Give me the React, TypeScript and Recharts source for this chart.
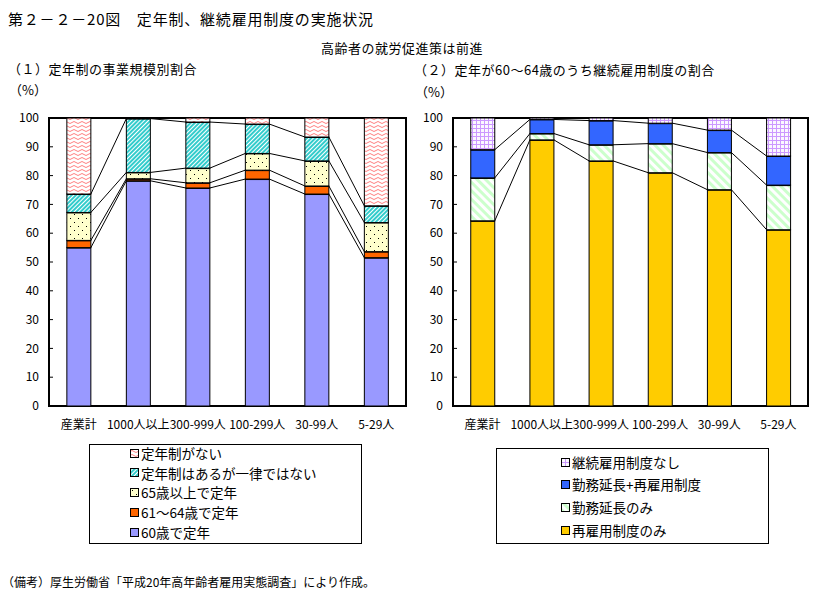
import { BarChart, Bar, XAxis, YAxis, ReferenceArea } from "recharts";

const FONT = "'Noto Sans CJK JP', 'Noto Sans CJK SC', sans-serif";

const categories = ["産業計", "1000人以上", "300-999人", "100-299人", "30-99人", "5-29人"];
const yTicks = [0, 10, 20, 30, 40, 50, 60, 70, 80, 90, 100];

// (1) 定年制の事業規模別割合
const age60 = [55.0, 78.2, 75.7, 78.8, 73.6, 51.5];
const age61to64 = [2.5, 0.7, 1.8, 3.1, 2.8, 2.1];
const age65plus = [9.7, 2.2, 5.1, 5.8, 8.7, 10.1];
const notUniform = [6.4, 18.7, 16.0, 10.2, 8.3, 5.8];
const noRetireAge = [26.4, 0.2, 1.4, 2.1, 6.6, 30.5];

// (2) 定年が60～64歳のうち継続雇用制度の割合
const reemployOnly = [64.3, 92.4, 85.1, 81.0, 75.1, 61.2];
const extendOnly = [14.9, 2.2, 5.6, 10.1, 12.9, 15.5];
const extendAndReemploy = [9.8, 4.9, 8.4, 7.1, 7.8, 10.1];
const noContinued = [11.0, 0.5, 0.9, 1.8, 4.2, 13.2];

type Series = { key: string; label: string; values: number[]; fill: string; line: boolean };

const leftSeries: Series[] = [
  { key: "a60", label: "60歳で定年", values: age60, fill: "#9999ff", line: true },
  { key: "a6164", label: "61～64歳で定年", values: age61to64, fill: "#ff6600", line: true },
  { key: "a65", label: "65歳以上で定年", values: age65plus, fill: "url(#pDots)", line: true },
  { key: "nu", label: "定年制はあるが一律ではない", values: notUniform, fill: "url(#pCyan)", line: true },
  { key: "none", label: "定年制がない", values: noRetireAge, fill: "url(#pWave)", line: false },
];

const rightSeries: Series[] = [
  { key: "re", label: "再雇用制度のみ", values: reemployOnly, fill: "#ffcc00", line: true },
  { key: "ex", label: "勤務延長のみ", values: extendOnly, fill: "url(#pGreen)", line: true },
  { key: "both", label: "勤務延長+再雇用制度", values: extendAndReemploy, fill: "#3366ff", line: true },
  { key: "nc", label: "継続雇用制度なし", values: noContinued, fill: "url(#pGrid)", line: false },
];

const CHART_W = 420;
const CHART_H = 340;
const Y_W = 49;
const MARGIN = { top: 18, right: 14, bottom: 4, left: 0 };
const PLOT_H = CHART_H - MARGIN.top - MARGIN.bottom - 30;

function makeShape(fill: string, tops: number[] | null, step: number) {
  return (p: any) => {
    const { x, y, width, height, index } = p;
    const k = (p.background && p.background.height ? p.background.height : PLOT_H) / 100;
    let line = null;
    if (tops && index < tops.length - 1) {
      const y2 = y - (tops[index + 1] - tops[index]) * k;
      line = <line x1={x + width} y1={y} x2={x + step} y2={y2} stroke="#000" strokeWidth={1} />;
    }
    return (
      <g>
        <rect x={x} y={y} width={width} height={height} fill={fill} stroke="#000" strokeWidth={1} />
        {tops && <line x1={x} y1={y} x2={x + width} y2={y} stroke="#000" strokeWidth={2} />}
        {line}
      </g>
    );
  };
}

function Panel({ series, left, marginRight }: { series: Series[]; left: number; marginRight: number }) {
  const data = categories.map((name, i) => {
    const row: any = { name };
    series.forEach((s) => (row[s.key] = s.values[i]));
    return row;
  });
  const plotW = CHART_W - Y_W - marginRight;
  const step = plotW / categories.length;
  let acc = categories.map(() => 0);
  const tops = series.map((s) => {
    acc = acc.map((a, i) => a + s.values[i]);
    return acc;
  });
  const tickStyle = { fill: "#000", fontSize: 12, fontFamily: FONT };
  return (
    <div style={{ position: "absolute", left, top: 100 }}>
      <BarChart
        width={CHART_W}
        height={CHART_H}
        data={data}
        margin={{ ...MARGIN, right: marginRight }}
        barCategoryGap="30%"
      >
        <XAxis
          xAxisId="g"
          type="number"
          domain={[0, 6]}
          ticks={[1, 2, 3, 4, 5]}
          allowDataOverflow
          height={0}
          tickSize={-4}
          tick={false}
          axisLine={{ stroke: "#000", strokeWidth: 2 }}
          tickLine={{ stroke: "#000" }}
        />
        <XAxis
          dataKey="name"
          interval={0}
          height={30}
          axisLine={false}
          tickLine={false}
          tickSize={0}
          tickMargin={14}
          tick={tickStyle}
        />
        <YAxis
          width={Y_W}
          domain={[0, 100]}
          ticks={yTicks}
          interval={0}
          tickSize={-4}
          tickMargin={14}
          axisLine={{ stroke: "#000", strokeWidth: 2 }}
          tickLine={{ stroke: "#000" }}
          tick={tickStyle}
        />
        <ReferenceArea y1={0} y2={100} fill="none" stroke="#000" strokeWidth={2} ifOverflow="visible" />
        {series.map((s, si) => (
          <Bar
            key={s.key}
            dataKey={s.key}
            stackId="a"
            fill={s.fill}
            isAnimationActive={false}
            shape={makeShape(s.fill, s.line ? tops[si] : null, step)}
          />
        ))}
      </BarChart>
    </div>
  );
}

function Swatch({ fill }: { fill: string }) {
  return (
    <svg width={9} height={9} style={{ display: "block", marginRight: 2 }}>
      <rect x={0.5} y={0.5} width={8} height={8} fill={fill} stroke="#000" strokeWidth={1} />
    </svg>
  );
}

function Legend({ items, box, itemLeft, rows }: { items: Series[]; box: any; itemLeft: number; rows: number[] }) {
  return (
    <>
      <div style={{ position: "absolute", ...box, border: "1px solid #000", boxSizing: "border-box" }} />
      {items.map((s, i) => (
        <div
          key={s.key}
          style={{
            position: "absolute",
            left: itemLeft,
            top: rows[i] - 9,
            height: 18,
            display: "flex",
            alignItems: "center",
            fontSize: 13.5,
            fontFamily: FONT,
            whiteSpace: "nowrap",
          }}
        >
          <Swatch fill={s.fill} />
          {s.label}
        </div>
      ))}
    </>
  );
}

const text = (left: number, top: number, size: number, extra: any = {}) => ({
  position: "absolute" as const,
  left,
  top,
  fontSize: size,
  lineHeight: `${size + 4}px`,
  fontFamily: FONT,
  whiteSpace: "nowrap" as const,
  ...extra,
});

export default function App() {
  return (
    <div style={{ position: "absolute", left: 0, top: 0, width: 833, height: 608, background: "#fff", overflow: "hidden" }}>
      <svg width={0} height={0} style={{ position: "absolute" }}>
        <defs>
          <pattern id="pWave" width={8} height={4} patternUnits="userSpaceOnUse">
            <rect width={8} height={4} fill="#fff" />
            <path d="M0 2.5 Q2 0.5 4 2.5 T8 2.5" stroke="#ff7f7f" fill="none" strokeWidth={1} />
          </pattern>
          <pattern id="pCyan" width={3} height={3} patternUnits="userSpaceOnUse" patternTransform="rotate(45)">
            <rect width={3} height={3} fill="#fff" />
            <rect width={2} height={3} fill="#33cccc" />
          </pattern>
          <pattern id="pDots" width={8} height={8} patternUnits="userSpaceOnUse">
            <rect width={8} height={8} fill="#ffffcc" />
            <rect x={2} y={2} width={1} height={1} fill="#000" />
            <rect x={6} y={6} width={1} height={1} fill="#000" />
          </pattern>
          <pattern id="pGrid" width={4} height={4} patternUnits="userSpaceOnUse">
            <rect width={4} height={4} fill="#fbf8ff" />
            <rect width={4} height={1} fill="#cc99ff" />
            <rect width={1} height={4} fill="#cc99ff" />
          </pattern>
          <pattern id="pGreen" width={6} height={6} patternUnits="userSpaceOnUse" patternTransform="rotate(-45)">
            <rect width={6} height={6} fill="#fff" />
            <rect width={3} height={6} fill="#ccffcc" />
          </pattern>
        </defs>
      </svg>

      <div style={text(8, 9, 15, { letterSpacing: 0.8 })}>第２－２－20図　定年制、継続雇用制度の実施状況</div>
      <div style={text(321, 39, 13, { letterSpacing: 0.5 })}>高齢者の就労促進策は前進</div>
      <div style={text(8, 60, 13, { letterSpacing: 0.5 })}>（１）定年制の事業規模別割合</div>
      <div style={text(9, 81, 13)}>（%）</div>
      <div style={text(414, 61, 13, { letterSpacing: 0.5 })}>（２）定年が60～64歳のうち継続雇用制度の割合</div>
      <div style={text(415, 83, 13)}>（%）</div>

      <Panel series={leftSeries} left={0} marginRight={14} />
      <Panel series={rightSeries} left={404} marginRight={16} />

      <Legend
        items={[...leftSeries].reverse()}
        box={{ left: 89, top: 444, width: 273, height: 100 }}
        itemLeft={130}
        rows={[453, 472.5, 492, 512, 532]}
      />
      <Legend
        items={[...rightSeries].reverse()}
        box={{ left: 496, top: 448, width: 273, height: 96 }}
        itemLeft={561}
        rows={[462, 484, 507, 530]}
      />

      <div style={text(2, 574, 12)}>（備考）厚生労働省「平成20年高年齢者雇用実態調査」により作成。</div>
    </div>
  );
}
